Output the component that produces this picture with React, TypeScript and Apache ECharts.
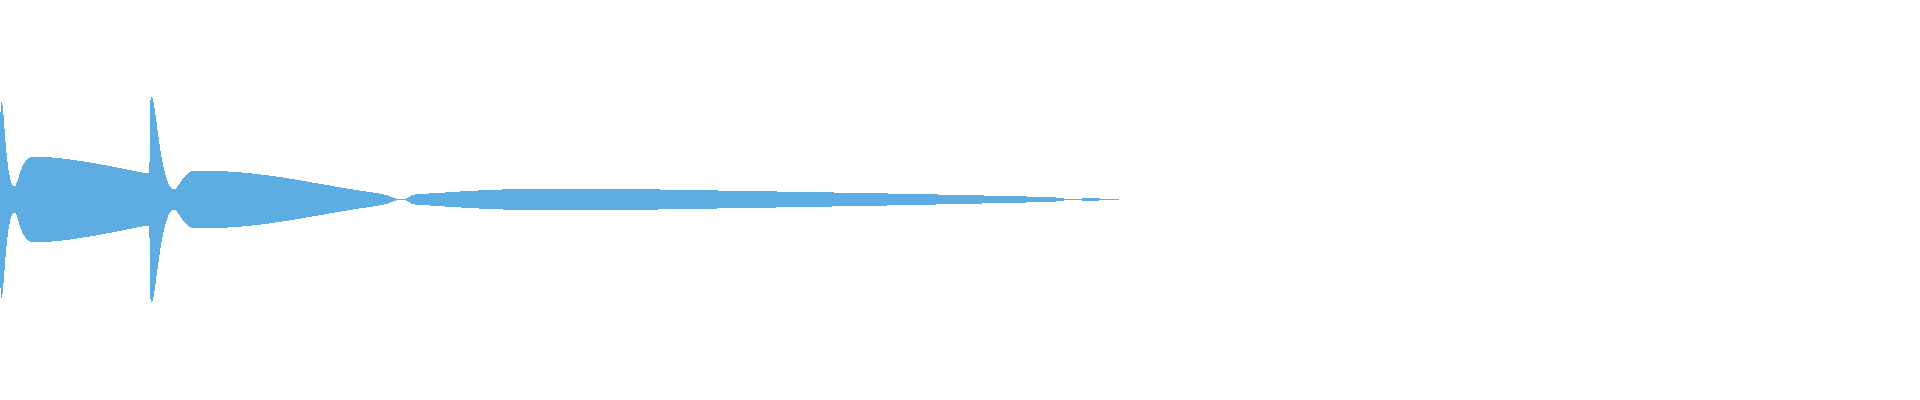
import { useRef, useEffect } from "react";
import * as echarts from "echarts";

// one layer, irregular sample positions along a value axis
const LAYER = "flow";
const DAYS = [0, 1.5, 14.5, 33, 148, 151.5, 174, 195, 381, 402, 415, 560, 700, 1050, 1072, 1087, 1119];
const VALUES = [104, 196, 26, 86, 52, 206, 20, 58, 11.5, 0, 10, 21.7, 18.6, 4.9, 0.8, 2.4, 0.6];
const AXIS_MIN = 0;
const AXIS_MAX = 1920;

export default function App() {
  const ref = useRef<HTMLDivElement>(null);

  useEffect(() => {
    if (!ref.current) return;
    document.body.style.margin = "0";
    const chart = echarts.init(ref.current, null, { renderer: "svg" });
    const data = DAYS.map((d, i) => [d, VALUES[i], LAYER]);
    chart.setOption({
      animation: false,
      color: ["#5DADE2"],
      singleAxis: {
        type: "value",
        min: AXIS_MIN,
        max: AXIS_MAX,
        left: 0,
        right: 0,
        top: 0,
        bottom: 0,
        axisLine: { show: false },
        axisTick: { show: false },
        axisLabel: { show: false },
        splitLine: { show: false },
        axisPointer: { show: false },
      },
      series: [
        {
          type: "themeRiver",
          boundaryGap: [96.5, 97.5],
          label: { show: false },
          itemStyle: { borderWidth: 0, borderColor: "transparent" },
          emphasis: { disabled: true },
          data,
        },
      ],
    });
    return () => chart.dispose();
  }, []);

  return (
    <>
      {/* reference edges are un-antialiased */}
      <style>{".river svg path { shape-rendering: crispEdges; }"}</style>
      <div className="river" ref={ref} style={{ width: 1920, height: 400 }} />
    </>
  );
}
